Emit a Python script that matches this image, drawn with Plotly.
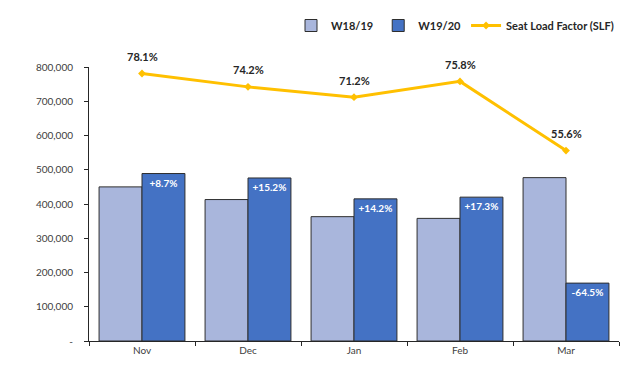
import plotly.graph_objects as go

months = ["Nov", "Dec", "Jan", "Feb", "Mar"]
w1819 = [450000, 413000, 363000, 358000, 477000]
w1920 = [489000, 476000, 415000, 420000, 169000]
yoy_labels = ["+8.7%", "+15.2%", "+14.2%", "+17.3%", "-64.5%"]
slf = [0.781, 0.742, 0.712, 0.758, 0.556]
slf_labels = ["78.1%", "74.2%", "71.2%", "75.8%", "55.6%"]
y_tickvals = [0, 100000, 200000, 300000, 400000, 500000, 600000, 700000, 800000]
y_ticktext = ["-", "100,000", "200,000", "300,000", "400,000", "500,000", "600,000", "700,000", "800,000"]

FONT = "Lato"
fig = go.Figure()
fig.add_trace(go.Bar(
    x=months, y=w1819, name="<b>W18/19</b>",
    marker=dict(color="#A9B6DC", line=dict(color="#2E2E2E", width=1)),
))
fig.add_trace(go.Bar(
    x=months, y=w1920, name="<b>W19/20</b>",
    marker=dict(color="#4472C4", line=dict(color="#2E2E2E", width=1)),
    text=["<b>" + t + "</b>" for t in yoy_labels], textposition="inside", insidetextanchor="end",
    textfont=dict(color="white", size=10, family=FONT), textangle=0,
))
fig.add_trace(go.Scatter(
    x=months, y=slf, name="<b>Seat Load Factor (SLF)</b>", yaxis="y2",
    mode="lines+markers", cliponaxis=False,
    line=dict(color="#FFC000", width=3),
    marker=dict(color="#FFC000", size=6, symbol="diamond"),
))
for m, v, t in zip(months, slf, slf_labels):
    fig.add_annotation(x=m, y=v, xref="x", yref="y2", text="<b>" + t + "</b>",
                       showarrow=False, yshift=17,
                       font=dict(color="#262626", size=11, family=FONT))

fig.update_layout(
    width=638, height=373,
    margin=dict(l=89, r=19, t=66, b=32),
    paper_bgcolor="white", plot_bgcolor="white",
    font=dict(family=FONT, size=10, color="#404040"),
    barmode="group", bargap=0.19, bargroupgap=0,
    showlegend=True,
    legend=dict(orientation="h", x=1.0, xanchor="right", y=1.2, yanchor="top",
                font=dict(size=11, color="#262626", family=FONT),
                bgcolor="rgba(0,0,0,0)", itemwidth=30, tracegroupgap=0),
    xaxis=dict(showline=True, linecolor="#262626", linewidth=1, ticks="outside",
               tickson="boundaries", ticklen=4, tickcolor="#262626",
               showgrid=False, tickfont=dict(size=10, color="#404040")),
    yaxis=dict(range=[0, 800000], tickvals=y_tickvals, ticktext=y_ticktext,
               showline=True, linecolor="#262626", linewidth=1, ticks="outside",
               ticklen=4, tickcolor="#262626", showgrid=False, zeroline=False,
               ticklabelstandoff=9,
               tickfont=dict(size=10, color="#404040")),
    yaxis2=dict(range=[0, 0.8], overlaying="y", side="right", visible=False),
)

fig.write_html("out.html", config={"displayModeBar": False},
               post_script="document.body.style.margin='0px';document.body.style.overflow='hidden';")
